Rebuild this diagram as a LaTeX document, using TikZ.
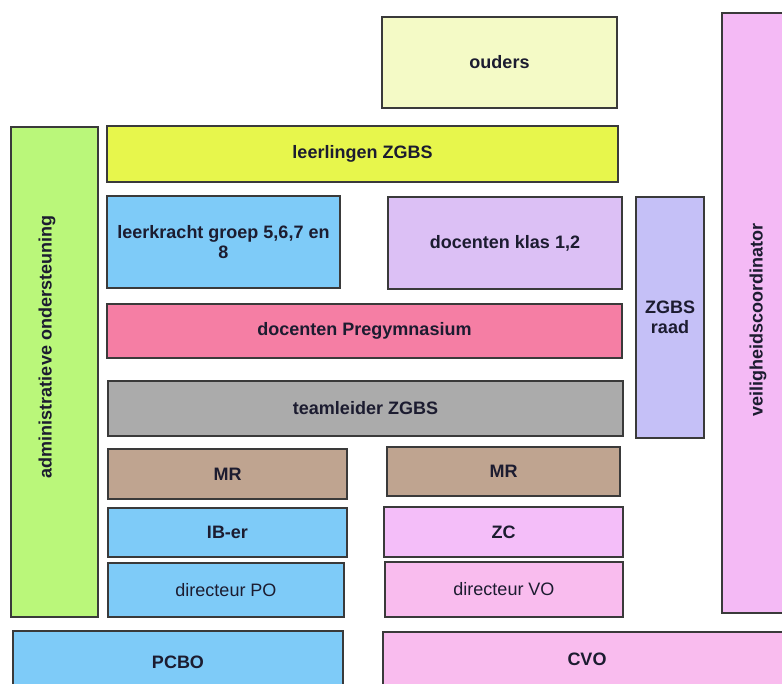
\documentclass[tikz,border=0pt]{standalone}
\usepackage{fontspec}
\setmainfont{Liberation Sans}
\usepackage{tikz}
\definecolor{cOuders}{HTML}{F4FAC6}
\definecolor{cLeerl}{HTML}{E7F64C}
\definecolor{cAdmin}{HTML}{BAF77A}
\definecolor{cBlauw}{HTML}{7ECBF8}
\definecolor{cKlas}{HTML}{DCC0F5}
\definecolor{cRaad}{HTML}{C5C0F7}
\definecolor{cVeil}{HTML}{F4BAF5}
\definecolor{cPregym}{HTML}{F57EA4}
\definecolor{cTeam}{HTML}{ABABAB}
\definecolor{cMR}{HTML}{BFA490}
\definecolor{cZC}{HTML}{F4BEF9}
\definecolor{cVO}{HTML}{F9BCEE}
\definecolor{cRand}{HTML}{3A3A3A}
\definecolor{cTekst}{HTML}{1C1C30}
\newcommand{\ft}{\fontsize{18}{20}\selectfont}

\begin{document}
\begin{tikzpicture}[x=1pt,y=-1pt,
   blok/.style={draw=cRand,line width=1.3pt,inner sep=0pt,text=cTekst,
                font=\ft\bfseries,align=center},
   dun/.style={font=\ft}]
   \useasboundingbox[fill=white] (0,0) rectangle (782,684);
   \clip (0,0) rectangle (782,684);
   \begin{scope}
    \node[blok,fill=cAdmin,minimum width=87,minimum height=490] (admin) at (54.5,372) {};
    \node[text=cTekst,font=\ft\bfseries,rotate=90] (admintekst) at (47,347) {administratieve ondersteuning};
    \node[blok,fill=cLeerl,minimum width=511,minimum height=56] (leerlingen) at (362.5,154) {leerlingen ZGBS};
    \node[blok,fill=cBlauw,minimum width=233,minimum height=92] (leerkracht) at (223.5,242) {leerkracht groep 5,6,7 en\\8};
    \node[blok,fill=cPregym,minimum width=515,minimum height=54] (pregym) at (364.5,331) {docenten Pregymnasium};
    \node[blok,fill=cTeam,minimum width=515,minimum height=55] (teamleider) at (365.5,408.5) {teamleider ZGBS};
    \node[blok,fill=cMR,minimum width=239,minimum height=50] (mrpo) at (227.5,474) {MR};
    \node[blok,fill=cBlauw,minimum width=239,minimum height=49] (iber) at (227.5,532.5) {IB-er};
    \node[blok,dun,fill=cBlauw,minimum width=236,minimum height=54] (dirpo) at (226,590) {directeur PO};
    \node[blok,fill=cBlauw,minimum width=330,minimum height=62] (pcbo) at (178,662) {PCBO};
   \end{scope}
   \begin{scope}
    \node[blok,fill=cOuders,minimum width=235,minimum height=91] (ouders) at (499.5,62.5) {ouders};
    \node[blok,fill=cKlas,minimum width=234,minimum height=92] (klas) at (505,243) {docenten klas 1,2};
    \node[blok,fill=cRaad,minimum width=68,minimum height=241] (raad) at (670,317.5) {ZGBS\\raad};
    \node[blok,fill=cVeil,minimum width=72,minimum height=600] (veil) at (758,313) {};
    \node[text=cTekst,font=\ft\bfseries,rotate=90] (veiltekst) at (758,320) {veiligheidscoordinator};
    \node[blok,fill=cMR,minimum width=233,minimum height=49] (mrvo) at (503.5,471.5) {MR};
    \node[blok,fill=cZC,minimum width=239,minimum height=50] (zc) at (503.5,532) {ZC};
    \node[blok,dun,fill=cVO,minimum width=238,minimum height=55] (dirvo) at (504,589.5) {directeur VO};
    \node[blok,fill=cVO,minimum width=408,minimum height=54] (cvo) at (587,659) {CVO};
   \end{scope}
\end{tikzpicture}
\end{document}
